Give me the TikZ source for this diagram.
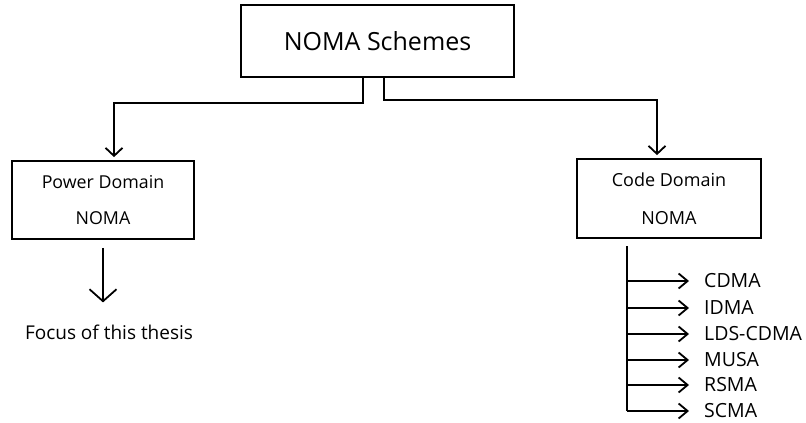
\documentclass[tikz,border=0pt]{standalone}
\usepackage{fontspec}
\setmainfont{Open Sans}
\usetikzlibrary{arrows.meta}
\begin{document}
\begin{tikzpicture}[x=1pt,y=-1pt,
  box/.style={draw,line width=1.8pt,inner sep=0pt,align=center},
  conn/.style={line width=1.8pt},
  arr/.style={line width=1.8pt,-{Straight Barb[length=8pt,width=17pt,line width=1.8pt]}},
  lab/.style={inner sep=0pt,anchor=west,font=\fontsize{19.5}{22}\selectfont}]
\useasboundingbox[fill=white] (0,0) rectangle (806,423);
\node[box,minimum width=273pt,minimum height=72pt,font=\fontsize{25}{30}\selectfont] (top) at (377.5,41) {NOMA Schemes};
\node[box,minimum width=182pt,minimum height=78pt,font=\fontsize{17.8}{36}\selectfont] (power) at (103,200) {Power Domain\\NOMA};
\node[box,minimum width=184pt,minimum height=79pt,font=\fontsize{18}{38}\selectfont] (code) at (669,198.5) {Code Domain\\NOMA};
\node[inner sep=0pt,font=\fontsize{19}{22}\selectfont] (focus) at (109,332) {Focus of this thesis};
\coordinate (jl) at (363,103);
\coordinate (jr) at (384,100);
\draw[arr,shorten >=3pt] (top.south -| jl) -- (jl) -| (power.north -| 114,0);
\draw[arr,shorten >=3pt] (top.south -| jr) -- (jr) -| (code.north -| 657,0);
\draw[line width=1.8pt,-{Straight Barb[length=12pt,width=27pt,line width=1.8pt]},shorten <=8pt,shorten >=22pt] (power.south) -- (focus.north -| power.south);
\node[lab] (c1) at (704,281) {CDMA};
\node[lab] (c2) at (704,308) {IDMA};
\node[lab] (c3) at (704,334) {LDS-CDMA};
\node[lab] (c4) at (704,360) {MUSA};
\node[lab] (c5) at (704,385) {RSMA};
\node[lab] (c6) at (704,411) {SCMA};
\coordinate (trunk) at (627,246);
\draw[conn] (trunk) -- (trunk |- c6);
\foreach \i in {1,...,6}{
  \draw[line width=1.8pt,-{Straight Barb[length=9pt,width=15pt,line width=1.8pt]},shorten >=15pt] (trunk |- c\i) -- (c\i.west);
}
\end{tikzpicture}
\end{document}
